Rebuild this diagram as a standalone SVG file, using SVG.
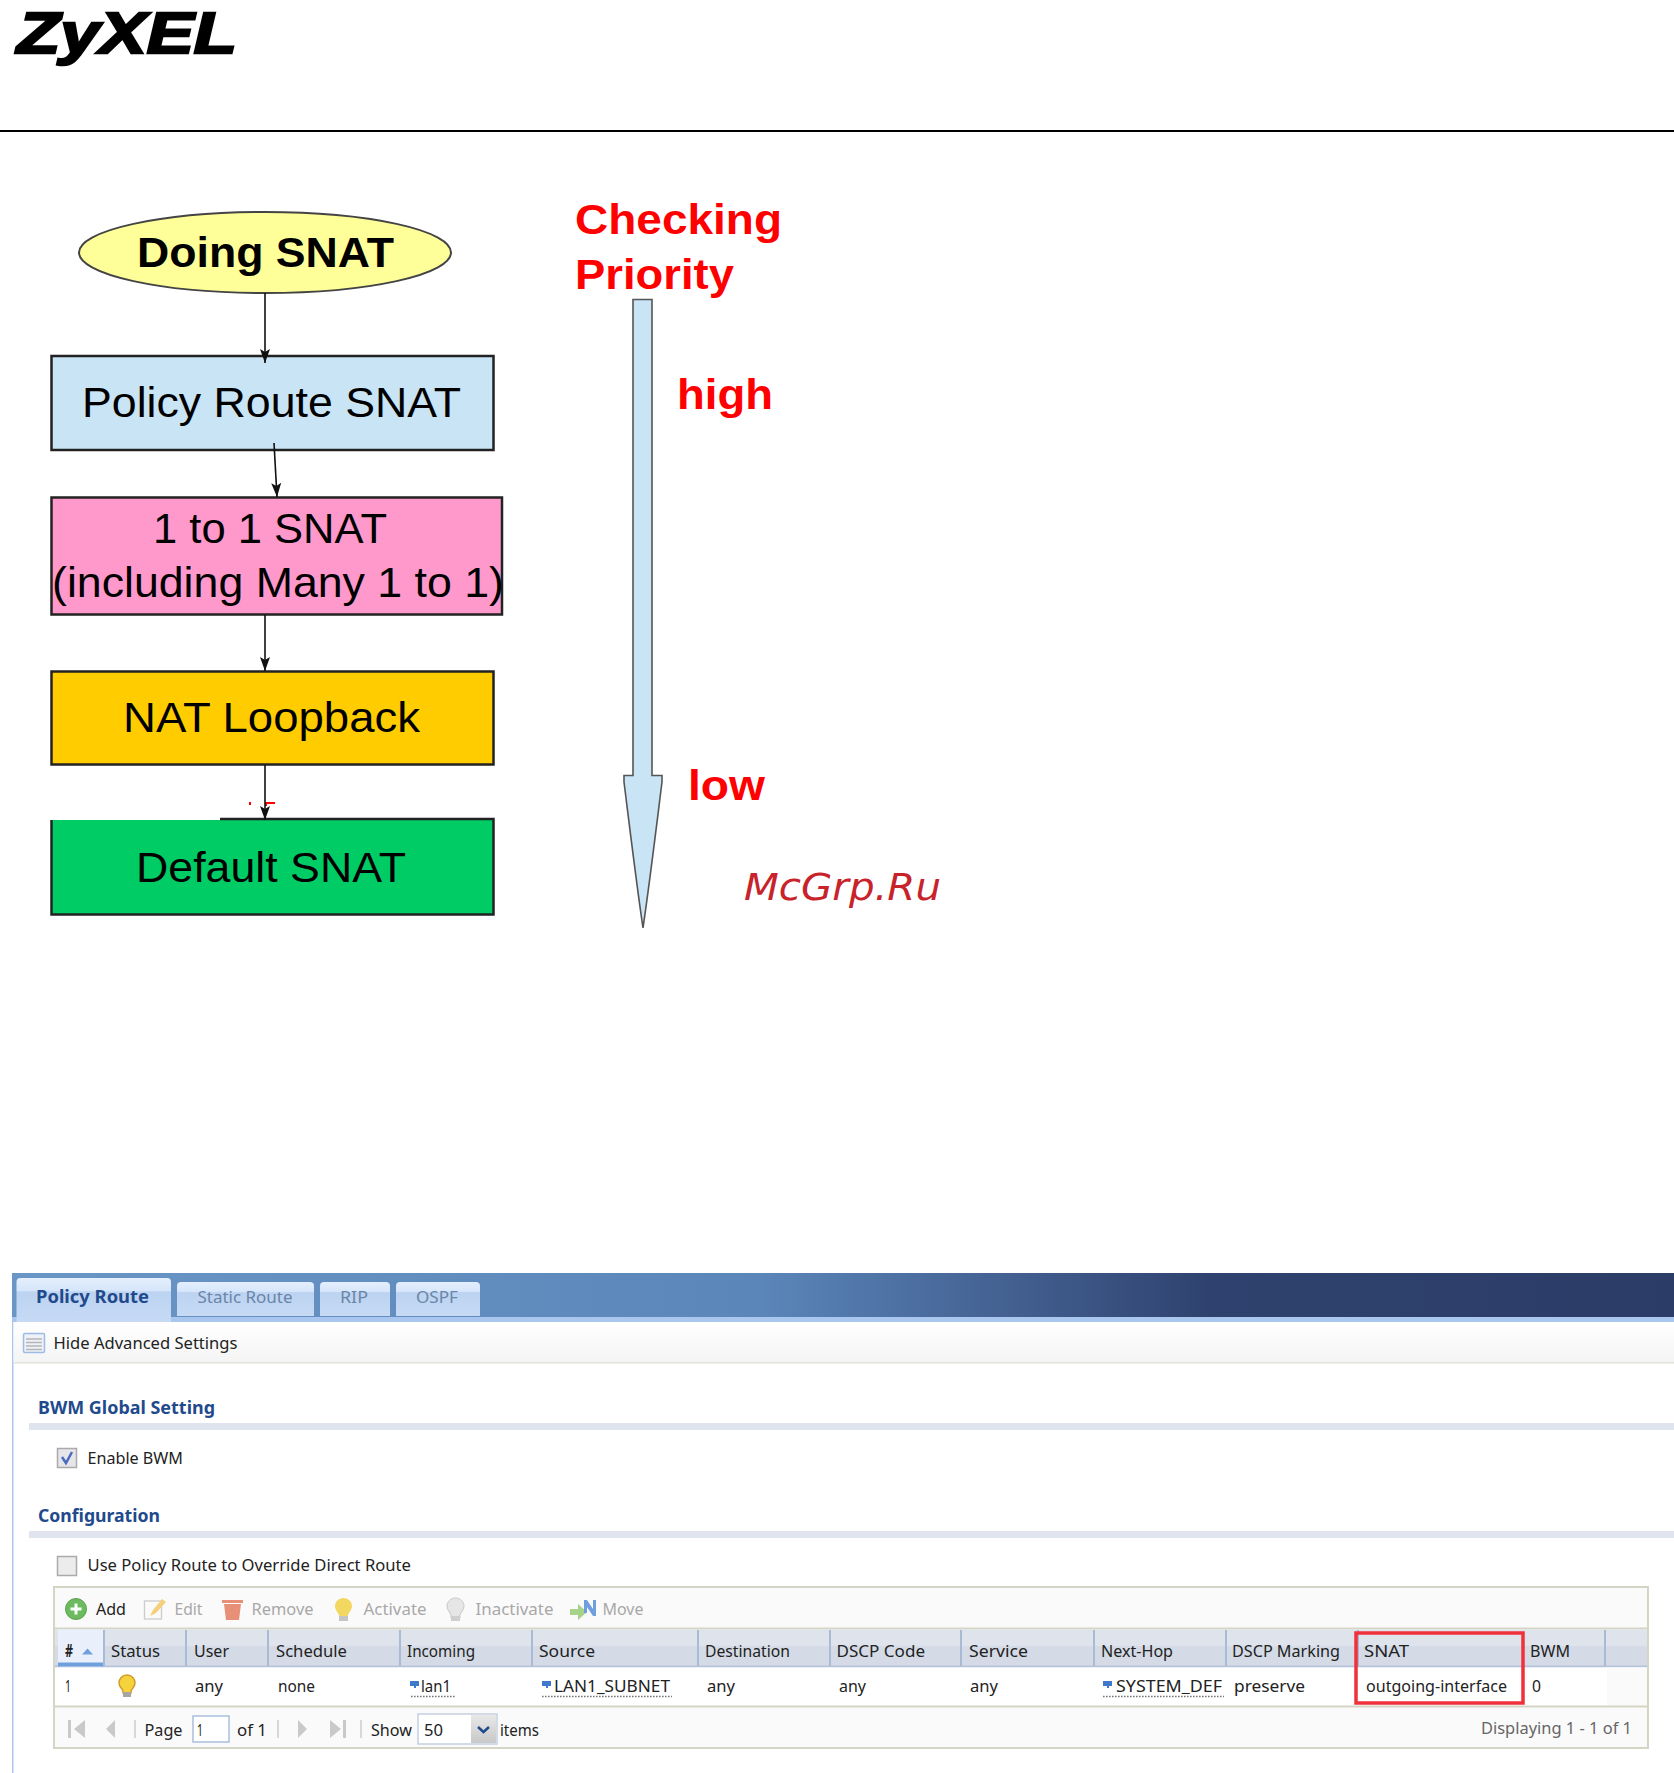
<svg xmlns="http://www.w3.org/2000/svg" width="1674" height="1773" viewBox="0 0 1674 1773">
<style>
text{font-family:"Liberation Sans",Arial,sans-serif}
.n{stroke:#222;stroke-width:2.5}
.f{font-size:43px;fill:#000}
.r{font-size:43px;fill:#f00;font-weight:bold}
.u{font-family:"Noto Sans","DejaVu Sans",sans-serif;font-size:17px;fill:#222}
.h{font-family:"Noto Sans","DejaVu Sans",sans-serif;font-size:18px;fill:#1f4a8c;font-weight:bold}
.g{fill:#a8a8a8}
.t{fill:#6b85a8}
.c{stroke:#111;stroke-width:1.6;fill:none;marker-end:url(#ah)}
.s{stroke:#a9bbd4;stroke-width:2}
.d{stroke:#777;stroke-width:1.3;stroke-dasharray:1.6 1.4}
.b{fill:#d5d5c5}
</style>
<defs>
<marker id="ah" markerUnits="userSpaceOnUse" markerWidth="15" markerHeight="12" refX="14" refY="6" orient="auto" viewBox="0 0 15 12"><path d="M0,1L3,6L0,11L14,6Z" fill="#111"/></marker>
<linearGradient id="band" x1="0" x2="1" y1="0" y2="0"><stop offset="0" stop-color="#6a96c6"/><stop offset=".45" stop-color="#5b86ba"/><stop offset=".72" stop-color="#2f426f"/><stop offset="1" stop-color="#2b3c66"/></linearGradient>
<linearGradient id="tab" x1="0" x2="0" y1="0" y2="1"><stop offset="0" stop-color="#e4effd"/><stop offset=".3" stop-color="#d5e5fa"/><stop offset=".31" stop-color="#bcd3f1"/><stop offset="1" stop-color="#c6daf4"/></linearGradient>
<linearGradient id="hide" x1="0" x2="0" y1="0" y2="1"><stop offset="0" stop-color="#fff"/><stop offset="1" stop-color="#f4f4f4"/></linearGradient>
<linearGradient id="head" x1="0" x2="0" y1="0" y2="1"><stop offset="0" stop-color="#dfe4ec"/><stop offset=".45" stop-color="#dfe4ec"/><stop offset=".46" stop-color="#d4dbe6"/><stop offset="1" stop-color="#d4dbe6"/></linearGradient>
<linearGradient id="btn" x1="0" x2="0" y1="0" y2="1"><stop offset="0" stop-color="#e8e8e8"/><stop offset="1" stop-color="#c8c8c8"/></linearGradient>
</defs>
<rect width="1674" height="1773" fill="#fff"/>

<g id="logo"><text x="17" y="53" font-size="58" font-weight="bold" font-style="italic" textLength="220" lengthAdjust="spacingAndGlyphs" fill="#000" stroke="#000" stroke-width="2.400">ZyXEL</text></g>
<rect id="header-rule" x="0" y="130" width="1674" height="2" fill="#000"/>

<g id="doing-snat"><ellipse cx="265" cy="252.500" rx="186" ry="40.500" fill="#ffff99" stroke="#444" stroke-width="2"/><text class="f" x="137" y="267" font-weight="bold" textLength="257" lengthAdjust="spacingAndGlyphs">Doing SNAT</text></g>
<g id="policy-route-snat"><rect x="51.500" y="356" width="442" height="94" fill="#c8e4f5" class="n"/><text class="f" x="82" y="417" textLength="379" lengthAdjust="spacingAndGlyphs">Policy Route SNAT</text></g>
<g id="one-to-one-snat"><rect x="51.500" y="497.500" width="450.500" height="117" fill="#ff99cc" class="n"/><text class="f" x="153" y="543" textLength="234" lengthAdjust="spacingAndGlyphs">1 to 1 SNAT</text><text class="f" x="52" y="597" textLength="452" lengthAdjust="spacingAndGlyphs">(including Many 1 to 1)</text></g>
<g id="nat-loopback"><rect x="51.500" y="671.500" width="442" height="93" fill="#ffcc00" class="n"/><text class="f" x="123" y="732" textLength="297" lengthAdjust="spacingAndGlyphs">NAT Loopback</text></g>
<g id="default-snat"><path d="M51.500,820H220V819H493.500V914.500H51.500Z" fill="#00cc66"/><path d="M220,819H493.500V914.500H51.500V820" fill="none" class="n"/><text class="f" x="136" y="882" textLength="270" lengthAdjust="spacingAndGlyphs">Default SNAT</text><path d="M249,802h2v3h-2zM265,802h10v2h-8v2h-2z" fill="#f00"/></g>

<g id="connectors">
<path class="c" d="M265,293V363"/>
<path class="c" d="M274,443L277,497"/>
<path class="c" d="M265,615V671"/>
<path class="c" d="M265,765V820"/>
</g>

<g id="priority-arrow"><path d="M633,299.500H652V775.500H662V782C656,830 650,880 643,928C636,880 630,830 624,782V775.500H633Z" fill="#c8e4f5" stroke="#555" stroke-width="1.600"/></g>
<g id="priority-labels">
<text class="r" x="575" y="234" textLength="207" lengthAdjust="spacingAndGlyphs">Checking</text>
<text class="r" x="575" y="289" textLength="159" lengthAdjust="spacingAndGlyphs">Priority</text>
<text class="r" x="677" y="409" textLength="96" lengthAdjust="spacingAndGlyphs">high</text>
<text class="r" x="688" y="800" textLength="77" lengthAdjust="spacingAndGlyphs">low</text>
</g>
<text id="watermark" x="744" y="900" font-size="38" font-style="italic" style="font-family:'DejaVu Sans',sans-serif" fill="#c8232a" textLength="197" lengthAdjust="spacingAndGlyphs">McGrp.Ru</text>

<g id="tabs-bar">
<rect x="12" y="1273" width="1662" height="45" fill="url(#band)"/>
<rect x="12" y="1317" width="1662" height="5" fill="#a9c6ee"/>
<path d="M16.500,1318V1282q0-4 4-4H167q4,0 4,4V1322H16.500Z" fill="url(#tab)"/>
<path d="M177,1316V1286q0-4 4-4H310q4,0 4,4V1316Z" fill="url(#tab)"/>
<path d="M320,1316V1286q0-4 4-4H386q4,0 4,4V1316Z" fill="url(#tab)"/>
<path d="M396,1316V1286q0-4 4-4H476q4,0 4,4V1316Z" fill="url(#tab)"/>
<text class="h" x="36" y="1303" textLength="113" lengthAdjust="spacingAndGlyphs">Policy Route</text>
<text class="u t" x="197.500" y="1303" textLength="95" lengthAdjust="spacingAndGlyphs">Static Route</text>
<text class="u t" x="340" y="1303" textLength="28" lengthAdjust="spacingAndGlyphs">RIP</text>
<text class="u t" x="416" y="1303" textLength="42" lengthAdjust="spacingAndGlyphs">OSPF</text>
</g>
<rect id="left-edge" x="12" y="1322" width="1.500" height="451" fill="#a9c6ee"/>

<g id="advanced-row">
<rect x="13.500" y="1322" width="1660.500" height="41" fill="url(#hide)"/>
<rect x="13.500" y="1362" width="1660.500" height="1.500" fill="#e2e2d8"/>
<rect x="23.500" y="1333.500" width="21" height="19" rx="1.500" fill="#eef2f8" stroke="#9dbbe4" stroke-width="1.500"/>
<path d="M26,1339H42M26,1342.500H42M26,1346H42M26,1349.500H42" stroke="#b5b5b5" stroke-width="1.300"/>
<text class="u" x="53.500" y="1349" textLength="184" lengthAdjust="spacingAndGlyphs">Hide Advanced Settings</text>
</g>

<g id="bwm-section">
<text class="h" x="38" y="1414" textLength="177" lengthAdjust="spacingAndGlyphs">BWM Global Setting</text>
<rect x="29" y="1423" width="1645" height="7" fill="#e0e4ee"/>
<rect x="57.500" y="1448.500" width="19" height="19" fill="#e6e6ea" stroke="#aaa" stroke-width="1.500"/>
<path d="M62,1457l4,6 6-11" fill="none" stroke="#4a6cc0" stroke-width="2.500"/>
<text class="u" x="87.500" y="1464" textLength="95.500" lengthAdjust="spacingAndGlyphs">Enable BWM</text>
</g>

<g id="configuration-section">
<text class="h" x="38" y="1522" textLength="122" lengthAdjust="spacingAndGlyphs">Configuration</text>
<rect x="29" y="1531" width="1645" height="7" fill="#e0e4ee"/>
<rect x="57.500" y="1556.500" width="19" height="19" fill="#ececec" stroke="#aaa" stroke-width="1.500"/>
<text class="u" x="87.500" y="1571" textLength="323.500" lengthAdjust="spacingAndGlyphs">Use Policy Route to Override Direct Route</text>
</g>

<g id="policy-table">
<rect x="54" y="1587" width="1594" height="161" fill="#fafafa" stroke="#d5d5c5" stroke-width="2"/>
<rect x="55" y="1627.500" width="1592" height="2" class="b"/>
<rect x="55" y="1629.500" width="1592" height="37" fill="url(#head)"/>
<rect x="55" y="1665.500" width="1592" height="2" fill="#b4c3d9"/>
<rect x="58" y="1629.500" width="46" height="37" fill="#e9f0fb"/>
<rect x="58" y="1662.500" width="46" height="4" fill="#6f9fdc"/>
<rect x="55" y="1667.500" width="1592" height="38" fill="#fff"/>
<rect x="1607" y="1667.500" width="40" height="38" fill="#fafafa"/>
<rect x="55" y="1705.500" width="1592" height="2" class="b"/>
<path class="s" d="M104,1630V1666M186,1630V1666M268,1630V1666M400,1630V1666M532,1630V1666M698,1630V1666M830,1630V1666M961,1630V1666M1094,1630V1666M1226,1630V1666M1358,1630V1666M1605,1630V1666"/>

<g id="toolbar">
<circle cx="76" cy="1609" r="10.500" fill="#6dbb5f" stroke="#5a9e50" stroke-width="1"/>
<path d="M76,1603.500v11M70.500,1609h11" stroke="#fff" stroke-width="3"/>
<text class="u" x="96" y="1615" textLength="30" lengthAdjust="spacingAndGlyphs">Add</text>
<rect x="144.500" y="1601" width="17" height="18" fill="#fafafa" stroke="#ccc" stroke-width="1.300"/>
<path d="M150,1616l3-6 9-11 4,3-10,11z" fill="#f5cf7a"/>
<text class="u g" x="174.500" y="1615" textLength="28" lengthAdjust="spacingAndGlyphs">Edit</text>
<path d="M222,1600H243V1603H222ZM224,1604H241L239,1620H226Z" fill="#e88f78"/>
<text class="u g" x="251.500" y="1615" textLength="62" lengthAdjust="spacingAndGlyphs">Remove</text>
<path d="M343.500,1598c5,0 8.500,4 8.500,8 0,4-3,6-4,9v3h-9v-3c-1-3-4-5-4-9 0-4 3.500-8 8.500-8z" fill="#f2d860"/>
<rect x="339" y="1616" width="9" height="5" fill="#c5c5c5"/>
<text class="u g" x="363.500" y="1615" textLength="63" lengthAdjust="spacingAndGlyphs">Activate</text>
<path d="M455.500,1598c5,0 8.500,4 8.500,8 0,4-3,6-4,9v3h-9v-3c-1-3-4-5-4-9 0-4 3.500-8 8.500-8z" fill="#e6e6e6" stroke="#c8c8c8"/>
<rect x="451" y="1616" width="9" height="5" fill="#cfcfcf"/>
<text class="u g" x="475.500" y="1615" textLength="78" lengthAdjust="spacingAndGlyphs">Inactivate</text>
<path d="M570,1609h8v-5l9,8-9,8v-5h-8z" fill="#a6d28c"/>
<path d="M584,1600h3l6,9v-9h3v16h-3l-6-9v6h-3z" fill="#6f9fdc"/>
<text class="u g" x="602.500" y="1615" textLength="41" lengthAdjust="spacingAndGlyphs">Move</text>
</g>

<g id="table-head" transform="translate(-1,-.5)">
<text class="u" x="66" y="1657" font-weight="bold" textLength="8" lengthAdjust="spacingAndGlyphs">#</text>
<path d="M83,1655l5.500-6 5.500,6z" fill="#6f9fdc"/>
<text class="u" x="112" y="1657" textLength="49" lengthAdjust="spacingAndGlyphs">Status</text>
<text class="u" x="195" y="1657" textLength="35" lengthAdjust="spacingAndGlyphs">User</text>
<text class="u" x="277" y="1657" textLength="71" lengthAdjust="spacingAndGlyphs">Schedule</text>
<text class="u" x="408" y="1657" textLength="68" lengthAdjust="spacingAndGlyphs">Incoming</text>
<text class="u" x="540" y="1657" textLength="56" lengthAdjust="spacingAndGlyphs">Source</text>
<text class="u" x="706" y="1657" textLength="85" lengthAdjust="spacingAndGlyphs">Destination</text>
<text class="u" x="837.500" y="1657" textLength="88.500" lengthAdjust="spacingAndGlyphs">DSCP Code</text>
<text class="u" x="970" y="1657" textLength="59" lengthAdjust="spacingAndGlyphs">Service</text>
<text class="u" x="1102" y="1657" textLength="72" lengthAdjust="spacingAndGlyphs">Next-Hop</text>
<text class="u" x="1233" y="1657" textLength="108" lengthAdjust="spacingAndGlyphs">DSCP Marking</text>
<text class="u" x="1365" y="1657" textLength="45" lengthAdjust="spacingAndGlyphs">SNAT</text>
<text class="u" x="1531" y="1657" textLength="40" lengthAdjust="spacingAndGlyphs">BWM</text>
</g>

<g id="table-row" transform="translate(-1,-1)">
<text class="u" x="66" y="1693" textLength="6" lengthAdjust="spacingAndGlyphs">1</text>
<path d="M128,1676c5,0 8,4 8,8 0,4-3,5-4,8v2h-8v-2c-1-3-4-4-4-8 0-4 3-8 8-8z" fill="#f5d33c" stroke="#d49a2c" stroke-width="1.500"/>
<rect x="124" y="1693" width="8" height="5" fill="#a5a5a5"/>
<text class="u" x="196" y="1693" textLength="28" lengthAdjust="spacingAndGlyphs">any</text>
<text class="u" x="279" y="1693" textLength="37" lengthAdjust="spacingAndGlyphs">none</text>
<path d="M411,1682h9v5h-3v2h-2v-2h-4z" fill="#3f79cc"/>
<text class="u" x="422" y="1693" textLength="30" lengthAdjust="spacingAndGlyphs">lan1</text>
<path class="d" d="M412,1697.500H456"/>
<path d="M543,1682h9v5h-3v2h-2v-2h-4z" fill="#3f79cc"/>
<text class="u" x="555" y="1693" textLength="116" lengthAdjust="spacingAndGlyphs">LAN1_SUBNET</text>
<path class="d" d="M543,1697.500H673"/>
<text class="u" x="708" y="1693" textLength="28" lengthAdjust="spacingAndGlyphs">any</text>
<text class="u" x="840" y="1693" textLength="27" lengthAdjust="spacingAndGlyphs">any</text>
<text class="u" x="971" y="1693" textLength="28" lengthAdjust="spacingAndGlyphs">any</text>
<path d="M1104,1682h9v5h-3v2h-2v-2h-4z" fill="#3f79cc"/>
<text class="u" x="1117" y="1693" textLength="106" lengthAdjust="spacingAndGlyphs">SYSTEM_DEF</text>
<path class="d" d="M1104,1697.500H1225"/>
<text class="u" x="1235" y="1693" textLength="71" lengthAdjust="spacingAndGlyphs">preserve</text>
<text class="u" x="1367" y="1693" textLength="141" lengthAdjust="spacingAndGlyphs">outgoing-interface</text>
<text class="u" x="1533" y="1693" textLength="9" lengthAdjust="spacingAndGlyphs">0</text>
</g>

<g id="pager">
<path d="M68,1720h3v18h-3zM85,1720v18l-11-9z" fill="#c9c9c9"/>
<path d="M115,1720v18l-9-9z" fill="#c9c9c9"/>
<path d="M135,1720V1738M278,1720V1738M361,1720V1738" stroke="#ccc" stroke-width="1.500"/>
<text class="u" x="144.500" y="1736" textLength="38" lengthAdjust="spacingAndGlyphs">Page</text>
<rect x="193" y="1716" width="36" height="26" fill="#fff" stroke="#a9bfdc" stroke-width="1.500"/>
<text class="u" x="197" y="1736" textLength="6" lengthAdjust="spacingAndGlyphs">1</text>
<text class="u" x="237" y="1736" textLength="30" lengthAdjust="spacingAndGlyphs">of 1</text>
<path d="M298,1720v18l9-9z" fill="#c9c9c9"/>
<path d="M330,1720v18l11-9zM343,1720h3v18h-3z" fill="#c9c9c9"/>
<text class="u" x="371" y="1736" textLength="41" lengthAdjust="spacingAndGlyphs">Show</text>
<rect x="418" y="1714" width="79" height="30" fill="#fff" stroke="#c3cfe0" stroke-width="1.500"/>
<rect x="471" y="1715" width="25" height="28" fill="url(#btn)"/>
<path d="M478,1727l5.500,5 5.500-5" fill="none" stroke="#1f4a8c" stroke-width="2.500"/>
<text class="u" x="424" y="1736" textLength="19" lengthAdjust="spacingAndGlyphs">50</text>
<text class="u" x="500" y="1736" textLength="39" lengthAdjust="spacingAndGlyphs">items</text>
<text class="u" x="1481" y="1734" textLength="151" lengthAdjust="spacingAndGlyphs" style="fill:#666">Displaying 1 - 1 of 1</text>
</g>
</g>

<rect id="snat-highlight" x="1356" y="1633" width="167" height="70" fill="none" stroke="#f0303a" stroke-width="3.500"/>
</svg>
